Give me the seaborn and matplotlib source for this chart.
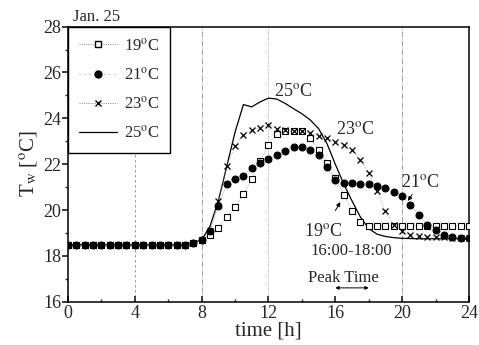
import numpy as np
import pandas as pd
import matplotlib
matplotlib.use('Agg')
import matplotlib.pyplot as plt
import seaborn as sns
from matplotlib.ticker import MultipleLocator
from matplotlib.lines import Line2D

# time axis [h], every half hour
time_h = [0, 0.5, 1, 1.5, 2, 2.5, 3, 3.5, 4, 4.5, 5, 5.5, 6, 6.5, 7,
          7.5, 8, 8.5, 9, 9.5, 10, 10.5, 11, 11.5, 12, 12.5, 13, 13.5, 14,
          14.5, 15, 15.5, 16, 16.5, 17, 17.5, 18, 18.5, 19, 19.5, 20, 20.5,
          21, 21.5, 22, 22.5, 23, 23.5, 24]

night = [18.5] * 15

# water temperature for each setting
tw_19 = night + [18.58, 18.68, 18.9, 19.24, 19.68, 20.15, 20.7, 21.35, 22.12, 22.85,
                 23.3, 23.45, 23.43, 23.43, 23.14, 22.63, 22.07, 21.4, 20.65, 19.98,
                 19.5, 19.32, 19.3, 19.3, 19.3, 19.3, 19.3, 19.3, 19.3, 19.3,
                 19.3, 19.3, 19.3, 19.3]
tw_21 = night + [18.58, 18.68, 19.07, 20.2, 21.15, 21.37, 21.5, 21.83, 22.05, 22.22,
                 22.41, 22.58, 22.73, 22.77, 22.63, 22.41, 21.9, 21.32, 21.2, 21.18,
                 21.15, 21.13, 21.06, 20.96, 20.81, 20.6, 20.23, 19.8, 19.36, 19.14,
                 18.93, 18.82, 18.78, 18.78]
tw_23 = night + [18.58, 18.68, 19.1, 20.4, 21.93, 22.8, 23.28, 23.47, 23.6, 23.72,
                 23.55, 23.5, 23.45, 23.45, 23.35, 23.23, 23.14, 22.99, 22.85, 22.63,
                 22.19, 21.62, 20.85, 19.94, 19.35, 19.07, 18.93, 18.85, 18.83, 18.82,
                 18.81, 18.8, 18.8, 18.8]
tw_25 = night + [18.58, 18.7, 19.3, 20.4, 21.9, 23.4, 24.6, 24.5, 24.72, 24.88,
                 24.84, 24.65, 24.42, 24.2, 23.93, 23.55, 22.9, 22.0, 21.15, 20.4,
                 19.7, 19.2, 18.95, 18.85, 18.8, 18.77, 18.76, 18.75, 18.75, 18.75,
                 18.75, 18.75, 18.75, 18.75]

df = pd.DataFrame({'time': time_h, '19': tw_19, '21': tw_21, '23': tw_23, '25': tw_25})

sns.set_theme(style='white')
plt.rcParams['font.family'] = ['Liberation Serif', 'DejaVu Serif']
plt.rcParams['mathtext.fontset'] = 'stix'

fig = plt.figure(figsize=(4.79, 3.45), dpi=100)
ax = fig.add_axes([0.142, 0.125, 0.837, 0.798])

# vertical guide lines
for xv, ls in [(4, (0, (3, 3))), (8, '-.'), (12, ':'), (20, '-.')]:
    ax.axvline(xv, color='0.55', lw=0.6, ls=ls, zorder=0)

sns.lineplot(data=df, x='time', y='25', ax=ax, color='black', lw=0.9, zorder=2)
sns.lineplot(data=df, x='time', y='19', ax=ax, color='0.5', lw=0.5, ls=':',
             marker='s', markersize=4.6, markerfacecolor='white',
             markeredgecolor='black', markeredgewidth=0.8, zorder=3)
sns.lineplot(data=df, x='time', y='23', ax=ax, color='0.5', lw=0.5, ls=':',
             marker='x', markersize=4.5, markeredgewidth=0.9,
             markeredgecolor='black', zorder=4)
sns.lineplot(data=df, x='time', y='21', ax=ax, color='0.5', lw=0.5, ls=':',
             marker='o', markersize=5, markerfacecolor='black',
             markeredgecolor='black', zorder=5)

ax.set_xlim(0, 24)
ax.set_ylim(16, 28)
ax.xaxis.set_major_locator(MultipleLocator(4))
ax.xaxis.set_minor_locator(MultipleLocator(2))
ax.yaxis.set_major_locator(MultipleLocator(2))
ax.yaxis.set_minor_locator(MultipleLocator(1))
ax.tick_params(axis='x', which='both', direction='in', labelsize=13, pad=2)
ax.tick_params(axis='x', which='major', length=4)
ax.tick_params(axis='x', which='minor', length=2.5)
ax.tick_params(axis='y', which='both', direction='out', labelsize=13, pad=1)
ax.tick_params(axis='y', which='major', length=4, left=True)
ax.tick_params(axis='y', which='minor', length=2.5, left=True)
ax.tick_params(bottom=True, which='both')
for s in ax.spines.values():
    s.set_color('black')
    s.set_linewidth(1.1)

ax.set_xlabel('time [h]', fontsize=15, labelpad=0)
ax.set_ylabel('T$_\\mathrm{w}$ [$^\\mathrm{o}$C]', fontsize=15, labelpad=2)

handles = [
    Line2D([], [], color='0.4', lw=0.6, ls=':', marker='s', markersize=4.3,
           markerfacecolor='white', markeredgecolor='black'),
    Line2D([], [], color='0.4', lw=0.6, ls=(0, (1, 5)), marker='o', markersize=5,
           markerfacecolor='black', markeredgecolor='black'),
    Line2D([], [], color='0.4', lw=0.6, ls=':', marker='x', markersize=4.5,
           markeredgecolor='black'),
    Line2D([], [], color='black', lw=0.9),
]
labels = ['19$^\\mathrm{o}$C', '21$^\\mathrm{o}$C', '23$^\\mathrm{o}$C', '25$^\\mathrm{o}$C']
leg = ax.legend(handles, labels, loc='upper left', borderaxespad=0, fontsize=12,
                frameon=True, fancybox=False, edgecolor='black', framealpha=1,
                handlelength=2.3, handletextpad=0.4, labelspacing=0.75,
                borderpad=0.65)
leg.get_frame().set_linewidth(1.0)

# labels on the curves
ax.text(0.07, 1.035, 'Jan. 25', transform=ax.transAxes, fontsize=12,
        ha='center', va='center')
ax.text(13.46, 25.15, '25$^\\mathrm{o}$C', fontsize=13, ha='center', va='center')
ax.text(17.2, 23.5, '23$^\\mathrm{o}$C', fontsize=13, ha='center', va='center')
ax.text(16.94, 18.22, '16:00-18:00', fontsize=12, ha='center', va='center')
ax.text(16.5, 17.05, 'Peak Time', fontsize=12, ha='center', va='center')
ax.annotate('19$^\\mathrm{o}$C', xy=(16.3, 20.35), xytext=(15.26, 19.05),
            fontsize=13, ha='center', va='center',
            arrowprops=dict(arrowstyle='-|>', color='black', lw=0.7,
                            mutation_scale=6, shrinkA=8, shrinkB=0))
ax.annotate('21$^\\mathrm{o}$C', xy=(20.35, 20.4), xytext=(21.07, 21.19),
            fontsize=13, ha='center', va='center',
            arrowprops=dict(arrowstyle='-|>', color='black', lw=0.7,
                            mutation_scale=6, shrinkA=6, shrinkB=0))
ax.annotate('', xy=(18, 16.61), xytext=(16, 16.61),
            arrowprops=dict(arrowstyle='<|-|>', color='black', lw=0.7,
                            mutation_scale=5, shrinkA=0, shrinkB=0))

plt.savefig('out.png', dpi=100)
